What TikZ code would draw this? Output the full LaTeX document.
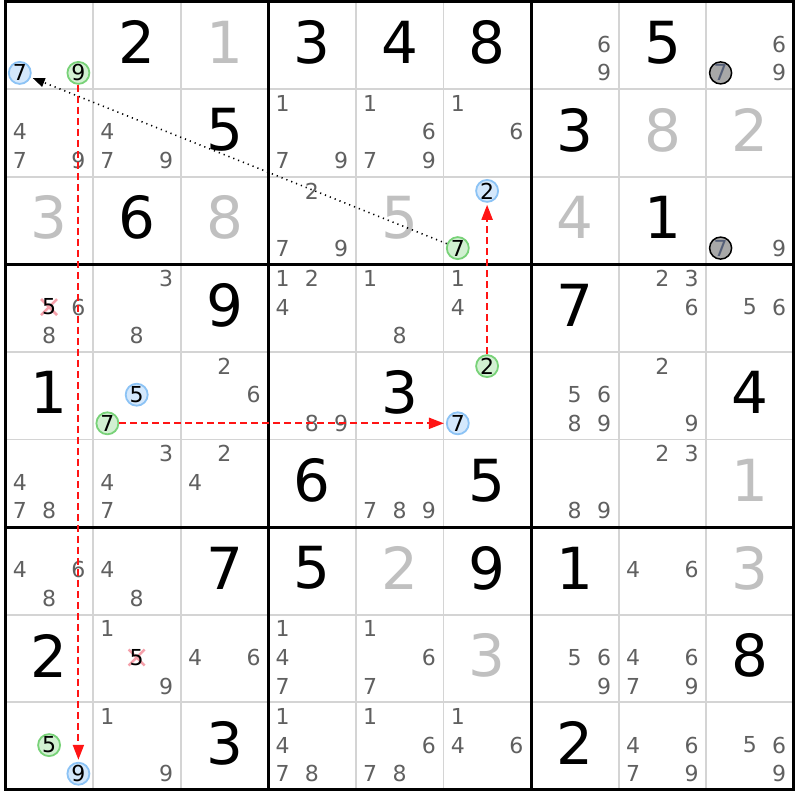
\documentclass[tikz,border=0pt]{standalone}
\usepackage{fontspec}
\setmainfont{DejaVu Sans}
\usetikzlibrary{arrows.meta}
\definecolor{candc}{RGB}{96,96,96}
\definecolor{solvedc}{RGB}{192,192,192}
\definecolor{gridc}{RGB}{212,212,212}
\definecolor{bluef}{RGB}{212,232,252}
\definecolor{blued}{RGB}{140,195,245}
\definecolor{greenf}{RGB}{210,240,210}
\definecolor{greend}{RGB}{120,210,120}
\definecolor{grayf}{RGB}{168,168,168}
\definecolor{graytxt}{RGB}{85,95,120}
\definecolor{xpink}{RGB}{245,160,170}
\definecolor{linkred}{RGB}{255,20,20}
\tikzset{
  cand/.style={text=candc, inner sep=0pt, font=\fontsize{22}{22}\selectfont},
  given/.style={text=black, inner sep=0pt, font=\fontsize{58}{58}\selectfont},
  solved/.style={given, text=solvedc},
  circbase/.style={circle, inner sep=0pt, minimum size=22pt, line width=1.8pt, text=black, font=\fontsize{22}{22}\selectfont},
  bluec/.style={circbase, fill=bluef, draw=blued},
  greenc/.style={circbase, fill=greenf, draw=greend},
  grayc/.style={circbase, fill=grayf, draw=black, line width=1.5pt, text=graytxt},
  thingrid/.style={draw=gridc, line width=1.8pt},
  thickgrid/.style={draw=black, line width=3pt},
  xmark/.style={draw=xpink, line width=2.5pt},
  reddash/.style={draw=linkred, line width=2pt, dash pattern=on 7pt off 4pt, -{Triangle[length=15pt,width=11pt]}, shorten >=2pt},
  blackdot/.style={draw=black, line width=1.6pt, dash pattern=on 1.2pt off 4pt, -{Triangle[length=12pt,width=9pt]}, shorten >=2pt},
}
\newcommand\cands[3]{%
  \foreach \d in {#3}{%
    \pgfmathsetmacro\cx{5.5+(#2-1)*87.6+14.3+mod(\d-1,3)*29.3}%
    \pgfmathsetmacro\cy{1.5+(#1-1)*87.6+14.2+floor((\d-1)/3)*28.6}%
    \node[cand] (k#1#2\d) at (\cx,\cy) {\d};}}
\newcommand\circd[5]{%
  \pgfmathsetmacro\cx{5.5+(#3-1)*87.6+14.3+mod(#4-1,3)*29.3}%
  \pgfmathsetmacro\cy{1.5+(#2-1)*87.6+14.2+floor((#4-1)/3)*28.6}%
  \node[#1] (#5) at (\cx,\cy) {#4};}
\newcommand\crossd[3]{%
  \pgfmathsetmacro\cx{5.5+(#2-1)*87.6+14.3+mod(#3-1,3)*29.3}%
  \pgfmathsetmacro\cy{1.5+(#1-1)*87.6+14.2+floor((#3-1)/3)*28.6}%
  \draw[xmark] (\cx-8,\cy-8) -- (\cx+8,\cy+8);
  \draw[xmark] (\cx-8,\cy+8) -- (\cx+8,\cy-8);
  \node[cand, text=black] (x#1#2#3) at (\cx,\cy) {#3};}
\newcommand\dig[4]{%
  \pgfmathsetmacro\cx{5.5+(#3-0.5)*87.6}%
  \pgfmathsetmacro\cy{1.5+(#2-0.5)*87.6-3}%
  \node[#1] (g#2#3) at (\cx,\cy) {#4};}
\begin{document}
\begin{tikzpicture}[x=1pt,y=-1pt]
\useasboundingbox (0,0) rectangle (800,800);
\fill[white] (0,0) rectangle (800,800);
% grid
\foreach \i in {1,2,4,5,7,8}{
  \draw[thingrid] ({5.5+\i*87.6},1.5) -- ({5.5+\i*87.6},789.9);
  \draw[thingrid] (5.5,{1.5+\i*87.6}) -- (793.9,{1.5+\i*87.6});
}
\foreach \i in {0,3,6,9}{
  \draw[thickgrid] ({5.5+\i*87.6},0) -- ({5.5+\i*87.6},791.4);
  \draw[thickgrid] (4,{1.5+\i*87.6}) -- (795.4,{1.5+\i*87.6});
}
% givens
\dig{given}{1}{2}{2}\dig{given}{1}{4}{3}\dig{given}{1}{5}{4}\dig{given}{1}{6}{8}\dig{given}{1}{8}{5}
\dig{given}{2}{3}{5}\dig{given}{2}{7}{3}
\dig{given}{3}{2}{6}\dig{given}{3}{8}{1}
\dig{given}{4}{3}{9}\dig{given}{4}{7}{7}
\dig{given}{5}{1}{1}\dig{given}{5}{5}{3}\dig{given}{5}{9}{4}
\dig{given}{6}{4}{6}\dig{given}{6}{6}{5}
\dig{given}{7}{3}{7}\dig{given}{7}{4}{5}\dig{given}{7}{6}{9}\dig{given}{7}{7}{1}
\dig{given}{8}{1}{2}\dig{given}{8}{9}{8}
\dig{given}{9}{3}{3}\dig{given}{9}{7}{2}
% solved
\dig{solved}{1}{3}{1}\dig{solved}{2}{8}{8}\dig{solved}{2}{9}{2}
\dig{solved}{3}{1}{3}\dig{solved}{3}{3}{8}\dig{solved}{3}{5}{5}\dig{solved}{3}{7}{4}
\dig{solved}{6}{9}{1}\dig{solved}{7}{5}{2}\dig{solved}{7}{9}{3}\dig{solved}{8}{6}{3}
% candidates
\cands{1}{7}{6,9}\cands{1}{9}{6,9}
\cands{2}{1}{4,7,9}\cands{2}{2}{4,7,9}\cands{2}{4}{1,7,9}\cands{2}{5}{1,6,7,9}\cands{2}{6}{1,6}
\cands{3}{4}{2,7,9}\cands{3}{9}{9}
\cands{4}{1}{6,8}\cands{4}{2}{3,8}\cands{4}{4}{1,2,4}\cands{4}{5}{1,8}\cands{4}{6}{1,4}\cands{4}{8}{2,3,6}\cands{4}{9}{5,6}
\cands{5}{3}{2,6}\cands{5}{4}{8,9}\cands{5}{7}{5,6,8,9}\cands{5}{8}{2,9}
\cands{6}{1}{4,7,8}\cands{6}{2}{3,4,7}\cands{6}{3}{2,4}\cands{6}{5}{7,8,9}\cands{6}{7}{8,9}\cands{6}{8}{2,3}
\cands{7}{1}{4,6,8}\cands{7}{2}{4,8}\cands{7}{8}{4,6}
\cands{8}{2}{1,9}\cands{8}{3}{4,6}\cands{8}{4}{1,4,7}\cands{8}{5}{1,6,7}\cands{8}{7}{5,6,9}\cands{8}{8}{4,6,7,9}
\cands{9}{2}{1,9}\cands{9}{4}{1,4,7,8}\cands{9}{5}{1,6,7,8}\cands{9}{6}{1,4,6}\cands{9}{8}{4,6,7,9}\cands{9}{9}{5,6,9}
% eliminated
\crossd{4}{1}{5}
\crossd{8}{2}{5}
% circled candidates
\circd{bluec}{1}{1}{7}{b117}
\circd{greenc}{1}{1}{9}{g119}
\circd{grayc}{1}{9}{7}{y197}
\circd{grayc}{3}{9}{7}{y397}
\circd{greenc}{3}{6}{7}{g367}
\circd{bluec}{3}{6}{2}{b362}
\circd{bluec}{5}{2}{5}{b525}
\circd{greenc}{5}{2}{7}{g527}
\circd{greenc}{5}{6}{2}{g562}
\circd{bluec}{5}{6}{7}{b567}
\circd{greenc}{9}{1}{5}{g915}
\circd{bluec}{9}{1}{9}{b919}
% links
\draw[blackdot] (g367) -- (b117);
\draw[reddash] (g119) -- (b919);
\draw[reddash] (g527) -- (b567);
\draw[reddash] (g562) -- (b362);
\end{tikzpicture}
\end{document}
